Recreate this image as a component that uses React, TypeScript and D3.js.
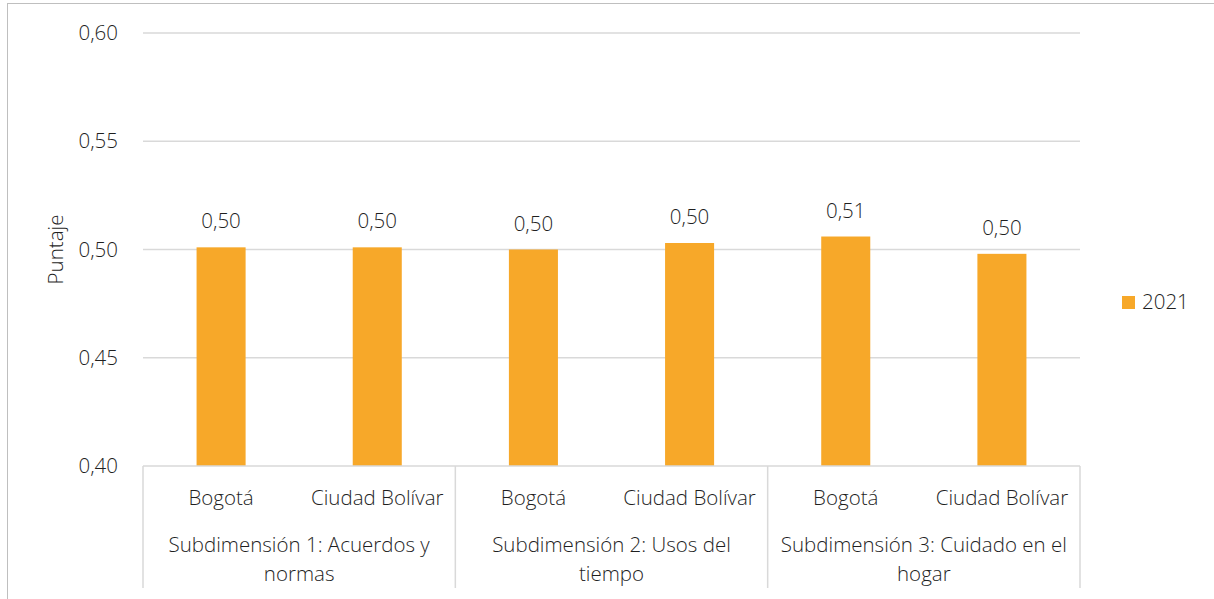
import React from "react";
import * as d3 from "d3";

const groups = [
  ["Subdimensión 1: Acuerdos y", "normas"],
  ["Subdimensión 2: Usos del", "tiempo"],
  ["Subdimensión 3: Cuidado en el", "hogar"],
];
const places = ["Bogotá", "Ciudad Bolívar"];
const values2021 = [0.501, 0.501, 0.5, 0.503, 0.506, 0.498];
const valueLabels = ["0,50", "0,50", "0,50", "0,50", "0,51", "0,50"];
const yTicks = [0.4, 0.45, 0.5, 0.55, 0.6];
const yTickLabels = ["0,40", "0,45", "0,50", "0,55", "0,60"];
const seriesName = "2021";

const W = 1214;
const H = 599;
const left = 143;
const right = 1080;
const top = 33;
const bottom = 466;
const FONT = "'Open Sans', 'Noto Sans', sans-serif";
const TXT = "#1f1f1f";
const BAR = "#F7A829";
const FS = 20.5;

export default function App() {
  const cats = groups.flatMap((g, gi) => places.map((p, pi) => `${gi}-${pi}`));
  const x = d3.scaleBand().domain(cats).range([left, right]).padding(0);
  const y = d3.scaleLinear().domain([0.4, 0.6]).range([bottom, top]);
  const bw = x.bandwidth() * 0.314;
  const groupW = (right - left) / groups.length;

  return (
    <svg
      width={W}
      height={H}
      style={{ position: "absolute", left: 0, top: 0, background: "#fff" }}
      fontFamily={FONT}
      fontWeight={300}
    >
      <rect x={7.5} y={3.5} width={W} height={H} fill="none" stroke="#bfbfbf" strokeWidth={1} />
      {yTicks.map((t, i) => (
        <g key={i}>
          {i > 0 && (
            <line x1={left} x2={right} y1={y(t)} y2={y(t)} stroke="#d9d9d9" strokeWidth={1.5} />
          )}
          <text x={118} y={y(t)} dy="0.35em" textAnchor="end" fontSize={FS} fill={TXT}>
            {yTickLabels[i]}
          </text>
        </g>
      ))}
      {values2021.map((v, i) => {
        const cx = (x(cats[i]) as number) + x.bandwidth() / 2;
        return (
          <g key={i}>
            <rect x={cx - bw / 2} y={y(v)} width={bw} height={y(0.4) - y(v)} fill={BAR} />
            <text x={cx} y={y(v) - 19} textAnchor="middle" fontSize={FS} fill={TXT}>
              {valueLabels[i]}
            </text>
          </g>
        );
      })}
      <line x1={left} x2={right} y1={bottom} y2={bottom} stroke="#d9d9d9" strokeWidth={1.5} />
      {d3.range(groups.length + 1).map((i) => (
        <line
          key={i}
          x1={left + i * groupW}
          x2={left + i * groupW}
          y1={bottom}
          y2={588}
          stroke="#d9d9d9"
          strokeWidth={1.5}
        />
      ))}
      {cats.map((c, i) => (
        <text
          key={c}
          x={(x(c) as number) + x.bandwidth() / 2}
          y={505}
          textAnchor="middle"
          fontSize={FS}
          fill={TXT}
        >
          {places[i % 2]}
        </text>
      ))}
      {groups.map((g, gi) => (
        <g key={gi}>
          {g.map((line, li) => (
            <text
              key={li}
              x={left + (gi + 0.5) * groupW}
              y={552 + li * 29}
              textAnchor="middle"
              fontSize={FS}
              fill={TXT}
            >
              {line}
            </text>
          ))}
        </g>
      ))}
      <text
        transform={`translate(63,${(top + bottom) / 2}) rotate(-90)`}
        textAnchor="middle"
        fontSize={FS}
        fill={TXT}
      >
        Puntaje
      </text>
      <rect x={1122} y={296} width={13} height={13} fill={BAR} />
      <text x={1142} y={309} fontSize={FS} fill={TXT}>
        {seriesName}
      </text>
    </svg>
  );
}
